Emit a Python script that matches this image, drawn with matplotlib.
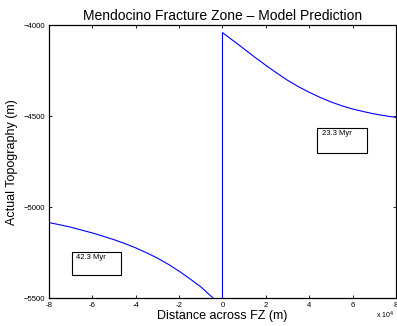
import matplotlib
matplotlib.use('Agg')
import matplotlib.pyplot as plt
from matplotlib.patches import Rectangle

plt.rcParams['font.family'] = ['Liberation Sans', 'DejaVu Sans']

# model topography (m)
left_x = [-8e4, -7.5e4, -7e4, -6.5e4, -6e4, -5.5e4, -5e4, -4.5e4, -4e4, -3.5e4,
          -3e4, -2.5e4, -2e4, -1.5e4, -1e4, -0.5e4, 0]
left_y = [-5083, -5095, -5108, -5124, -5140, -5158, -5177, -5198, -5222, -5249,
          -5278, -5312, -5350, -5392, -5436, -5490, -5550]
right_x = [0, 0.5e4, 1e4, 1.5e4, 2e4, 2.5e4, 3e4, 3.5e4, 4e4, 4.5e4,
           5e4, 5.5e4, 6e4, 6.5e4, 7e4, 7.5e4, 8e4]
right_y = [-4039, -4084, -4129, -4175, -4219, -4261, -4301, -4336, -4367, -4395,
           -4420, -4441, -4459, -4473, -4486, -4496, -4505]

x_ticks = [-8e4, -6e4, -4e4, -2e4, 0, 2e4, 4e4, 6e4, 8e4]
y_ticks = [-5500, -5000, -4500, -4000]
ages = ['23.3 Myr', '42.3 Myr']

fig = plt.figure(figsize=(3.97, 3.26), dpi=100)
ax = fig.add_axes([0.1234, 0.0844, 0.874, 0.8374])

ax.plot(left_x + right_x, left_y + right_y, color='blue', lw=0.8)

ax.set_xlim(-8e4, 8e4)
ax.set_ylim(-5500, -4000)
ax.set_xticks(x_ticks)
ax.set_xticklabels(['%g' % (v / 1e4) for v in x_ticks])
ax.set_yticks(y_ticks)
ax.tick_params(direction='in', length=2.5, width=0.6, labelsize=5.6,
               top=True, right=True, pad=2.5)
for s in ax.spines.values():
    s.set_linewidth(0.9)

ax.set_title('Mendocino Fracture Zone \u2013 Model Prediction', fontsize=10, pad=4)
ax.set_xlabel('Distance across FZ (m)', fontsize=9, labelpad=1)
ax.set_ylabel('Actual Topography (m)', fontsize=9, labelpad=4)
fig.text(0.948, 0.033, 'x 10$^4$', fontsize=5, ha='left', va='center')

# annotation text boxes
fig.add_artist(Rectangle((0.7985, 0.5307), 0.126, 0.0767, transform=fig.transFigure,
                         fill=False, ec='black', lw=0.8))
fig.text(0.810, 0.592, ages[0], fontsize=5.5, va='center')
fig.add_artist(Rectangle((0.1814, 0.1564), 0.1234, 0.0706, transform=fig.transFigure,
                         fill=False, ec='black', lw=0.8))
fig.text(0.192, 0.211, ages[1], fontsize=5.5, va='center')

fig.savefig('out.png', dpi=100)
